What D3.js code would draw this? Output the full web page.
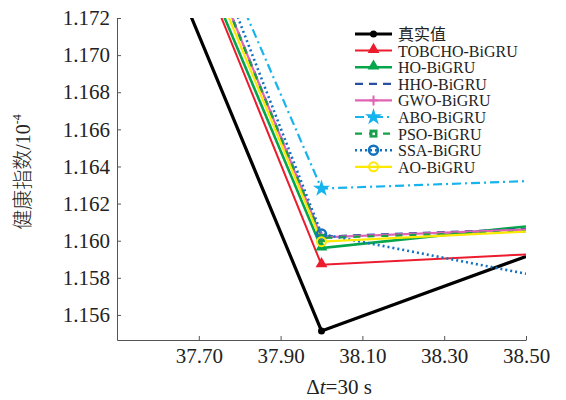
<!DOCTYPE html>
<html>
<head>
<meta charset="utf-8">
<script src="https://cdn.jsdelivr.net/npm/d3@7"></script>
<style>
  body { margin: 0; background: #fff; }
  text { font-family: "Liberation Serif", "Times New Roman", Times, serif; fill: #222; }
  .cjk { font-family: "Noto Sans CJK SC", sans-serif; }
</style>
</head>
<body>
<svg width="566" height="400"></svg>
<script>
// data
var xVals = [37.5, 38.0, 38.5];
var trueVals = [1.1817, 1.15514, 1.15915];
var tobchoVals = [1.1859, 1.1587, 1.15926];
var hoVals = [1.1858, 1.1596, 1.16077];
var hhoVals = [1.1873, 1.16022, 1.16063];
var gwoVals = [1.1873, 1.16018, 1.1606];
var aboVals = [1.1883, 1.16281, 1.16321];
var psoVals = [1.1872, 1.16015, 1.1605];
var ssaVals = [1.1889, 1.16036, 1.15822];
var aoVals = [1.1866, 1.15995, 1.16049];

var xTicks = [37.7, 37.9, 38.1, 38.3, 38.5];
var yTicks = [1.156, 1.158, 1.160, 1.162, 1.164, 1.166, 1.168, 1.170, 1.172];

var series = [
  {name: "真实值", vals: trueVals, color: "#000000", width: 3.2, dash: null, marker: "dot"},
  {name: "TOBCHO-BiGRU", vals: tobchoVals, color: "#ec1c2e", width: 2, dash: null, marker: "tri"},
  {name: "HO-BiGRU", vals: hoVals, color: "#05a64b", width: 2.6, dash: null, marker: "tri"},
  {name: "HHO-BiGRU", vals: hhoVals, color: "#2a4fa2", width: 2.2, dash: "8,6", marker: null},
  {name: "GWO-BiGRU", vals: gwoVals, color: "#e063b4", width: 2.2, dash: null, marker: "plus"},
  {name: "ABO-BiGRU", vals: aboVals, color: "#16b4ec", width: 2.2, dash: "9,4,2,4", marker: "star"},
  {name: "PSO-BiGRU", vals: psoVals, color: "#16a04a", width: 2.2, dash: "7,7", marker: "square"},
  {name: "SSA-BiGRU", vals: ssaVals, color: "#1472c2", width: 2.6, dash: "2,3", marker: "circle"},
  {name: "AO-BiGRU", vals: aoVals, color: "#fde900", width: 2.2, dash: null, marker: "ring"}
];

var svg = d3.select("svg");

var x = d3.scaleLinear().domain([37.5, 38.5]).range([117, 526]);
var y = d3.scaleLinear().domain([1.15465, 1.172]).range([340, 18]);

svg.append("defs").append("clipPath")
    .attr("id", "plot")
    .append("rect")
    .attr("x", 117).attr("y", 18)
    .attr("width", 409).attr("height", 322);

// axes
var xAxis = svg.append("g")
    .attr("transform", "translate(0,340)")
    .call(d3.axisBottom(x).tickValues(xTicks).tickFormat(d3.format(".2f")).tickSizeInner(-4).tickSizeOuter(0).tickPadding(8));
var yAxis = svg.append("g")
    .attr("transform", "translate(117,0)")
    .call(d3.axisLeft(y).tickValues(yTicks).tickFormat(d3.format(".3f")).tickSizeInner(-4).tickSizeOuter(0).tickPadding(7));

[xAxis, yAxis].forEach(function (g) {
    g.attr("font-family", null);
    g.select(".domain").attr("stroke", "#555").attr("stroke-width", 1);
    g.selectAll(".tick line").attr("stroke", "#555");
    g.selectAll(".tick text")
        .attr("font-size", 21)
        .attr("fill", "#222");
});

// axis titles
var xt = svg.append("text")
    .attr("x", 339).attr("y", 394)
    .attr("text-anchor", "middle")
    .attr("font-size", 21);
xt.append("tspan").text("Δ");
xt.append("tspan").attr("font-style", "italic").text("t");
xt.append("tspan").text("=30 s");

var yt = svg.append("text")
    .attr("transform", "translate(30,172) rotate(-90)")
    .attr("text-anchor", "middle")
    .attr("font-size", 20);
yt.append("tspan").attr("class", "cjk").attr("font-weight", 300).text("健康指数");
yt.append("tspan").text("/10");
yt.append("tspan").attr("font-size", 12).attr("dy", -9).text("-4");

// lines
var line = d3.line()
    .x(function (d, i) { return x(xVals[i]); })
    .y(function (d) { return y(d); });

var plot = svg.append("g").attr("clip-path", "url(#plot)");

plot.selectAll("path.series")
    .data(series)
    .enter().append("path")
    .attr("class", "series")
    .attr("d", function (d) { return line(d.vals); })
    .attr("fill", "none")
    .attr("stroke", d => d.color)
    .attr("stroke-width", d => d.width)
    .attr("stroke-dasharray", d => d.dash)
    .attr("stroke-linejoin", "miter");

function drawMarker(g, s, cx, cy) {
    if (s.marker === "dot") {
        g.append("circle").attr("cx", cx).attr("cy", cy).attr("r", 3.5).attr("fill", s.color);
    } else if (s.marker === "tri") {
        g.append("path")
            .attr("d", d3.symbol(d3.symbolTriangle, 60)())
            .attr("transform", "translate(" + cx + "," + (cy - 1) + ")")
            .attr("fill", s.color);
    } else if (s.marker === "plus") {
        g.append("path")
            .attr("d", "M" + (cx - 4) + "," + cy + "H" + (cx + 4) + "M" + cx + "," + (cy - 5) + "V" + (cy + 5))
            .attr("stroke", s.color).attr("stroke-width", 2);
    } else if (s.marker === "star") {
        g.append("path")
            .attr("d", d3.symbol(d3.symbolStar, 90)())
            .attr("transform", "translate(" + cx + "," + cy + ")")
            .attr("fill", s.color);
    } else if (s.marker === "square") {
        g.append("rect").attr("x", cx - 4).attr("y", cy - 4).attr("width", 8).attr("height", 8).attr("fill", s.color);
        g.append("rect").attr("x", cx - 1).attr("y", cy - 1).attr("width", 2.5).attr("height", 2.5).attr("fill", "#fff");
    } else if (s.marker === "circle") {
        g.append("circle").attr("cx", cx).attr("cy", cy).attr("r", 4.5)
            .attr("fill", "none").attr("stroke", s.color).attr("stroke-width", 2.6);
    } else if (s.marker === "ring") {
        g.append("circle").attr("cx", cx).attr("cy", cy).attr("r", 4.5)
            .attr("fill", "none").attr("stroke", s.color).attr("stroke-width", 2);
    }
}

// markers at the middle point
var marks = svg.append("g");
series.forEach(function (s) {
    drawMarker(marks, s, x(xVals[1]), y(s.vals[1]));
});

// legend
var legend = svg.append("g");
series.forEach(function (s, i) {
    var ly = 34 + i * 16.6;
    var row = legend.append("g");
    row.append("line")
        .attr("x1", 355).attr("x2", 392)
        .attr("y1", ly).attr("y2", ly)
        .attr("stroke", s.color)
        .attr("stroke-width", s.width)
        .attr("stroke-dasharray", s.dash);
    drawMarker(row, s, 373.5, ly);
    row.append("text")
        .attr("class", i === 0 ? "cjk" : null)
        .attr("x", 398).attr("y", ly + 6)
        .attr("font-size", 16)
        .text(s.name);
});
</script>
</body>
</html>
